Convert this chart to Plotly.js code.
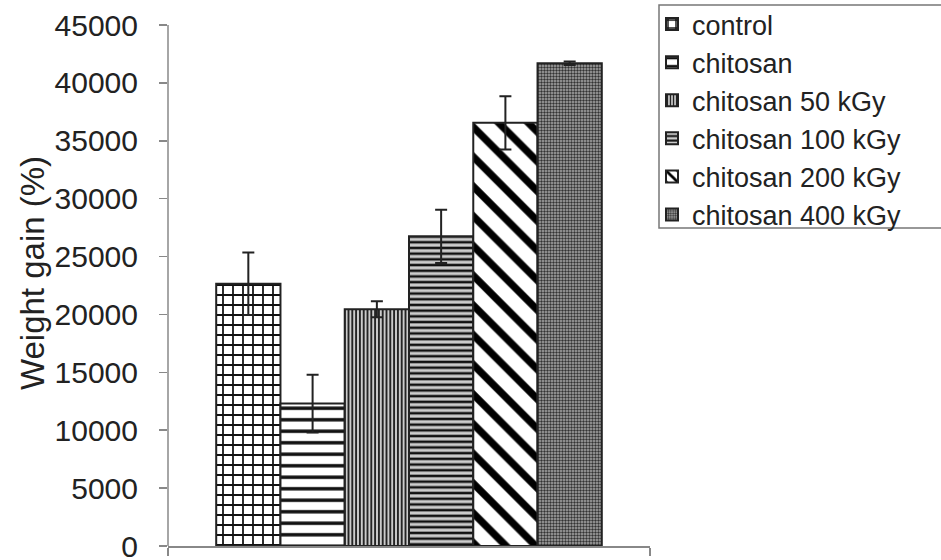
<!DOCTYPE html>
<html>
<head>
<meta charset="utf-8">
<script src="https://cdn.plot.ly/plotly-3.0.1.min.js"></script>
<style>html,body{margin:0;padding:0;background:#fff;}#chart{width:941px;height:560px;}</style>
</head>
<body>
<div id="chart"></div>
<script>
// Data
const seriesNames = ["control", "chitosan", "chitosan 50 kGy", "chitosan 100 kGy", "chitosan 200 kGy", "chitosan 400 kGy"];
const weightGain = [22650, 12300, 20450, 26750, 36550, 41700];
const errorValues = [2700, 2500, 700, 2300, 2300, 150];
const category = ["group"];
const yTickValues = [0, 5000, 10000, 15000, 20000, 25000, 30000, 35000, 40000, 45000];
const yTickLabels = ["0", "5000", "10000", "15000", "20000", "25000", "30000", "35000", "40000", "45000"];
const yAxisMax = 45000;

// Visual styles (not data)
const patterns = [
  {shape: "+", size: 10, solidity: 0.32, fgcolor: "#111", bgcolor: "#fff"},
  {shape: "-", size: 11.5, solidity: 0.3, fgcolor: "#111", bgcolor: "#fff"},
  {shape: "|", size: 3.8, solidity: 0.45, fgcolor: "#111", bgcolor: "#ccc"},
  {shape: "-", size: 5.7, solidity: 0.45, fgcolor: "#111", bgcolor: "#ccc"},
  {shape: "\\", size: 21, solidity: 0.35, fgcolor: "#000", bgcolor: "#fff"},
  {shape: ".", size: 3, solidity: 0.5, fgcolor: "#333", bgcolor: "#aaa"}
];

const traces = seriesNames.map((name, i) => ({
  type: "bar",
  name: name,
  x: category,
  y: [weightGain[i]],
  error_y: {type: "data", array: [errorValues[i]], visible: true, color: "#222", thickness: 2, width: 6},
  marker: {color: "#fff", line: {color: "#222", width: 2}, pattern: patterns[i]}
}));

// plot area: x 168..650 px, y 0..546 px; the 45000 tick sits at y = 25 px
const topPx = 25, zeroPx = 546;
const rangeMax = yAxisMax * zeroPx / (zeroPx - topPx);
const pw = 941 - 168 - 291, ph = zeroPx;
const px = v => (v - 168) / pw;
const py = v => (zeroPx - v) / ph;

const layout = {
  width: 941, height: 560,
  margin: {l: 168, r: 291, t: 0, b: 560 - zeroPx, autoexpand: false},
  paper_bgcolor: "#fff", plot_bgcolor: "#fff",
  barmode: "group", bargap: 0.2, bargroupgap: 0,
  font: {family: "Liberation Sans, Arial, sans-serif", color: "#222", size: 30},
  showlegend: true,
  legend: {
    x: px(652), y: 1, xanchor: "left", yanchor: "top",
    borderwidth: 0, bgcolor: "rgba(0,0,0,0)",
    font: {size: 27, color: "#222"}, tracegroupgap: 0, itemwidth: 30,
    traceorder: "normal"
  },
  shapes: [
    {
      type: "rect", xref: "paper", yref: "paper",
      x0: px(659), x1: px(960), y0: py(228), y1: py(5),
      line: {color: "#777", width: 1.5}, fillcolor: "rgba(0,0,0,0)", layer: "below"
    },
    {
      type: "line", xref: "paper", yref: "y",
      x0: 0, x1: 0, y0: 0, y1: yAxisMax,
      line: {color: "#888", width: 1.5}, layer: "above"
    }
  ],
  xaxis: {
    type: "category", showticklabels: false, showgrid: false, zeroline: false,
    showline: true, linecolor: "#888", linewidth: 1.5, automargin: false,
    ticks: "outside", tickson: "boundaries", ticklen: 8, tickcolor: "#888", tickwidth: 1.5
  },
  yaxis: {
    range: [0, rangeMax], tickvals: yTickValues, ticktext: yTickLabels, showgrid: false, zeroline: false,
    showline: false, automargin: false,
    ticks: "outside", ticklen: 8, tickcolor: "#888", tickwidth: 1.5,
    ticklabelstandoff: 15, ticklabeloverflow: "allow", tickfont: {size: 30, color: "#222"},
    title: {text: "Weight gain (%)", font: {size: 33, color: "#222"}, standoff: 0}
  }
};

Plotly.newPlot("chart", traces, layout, {displayModeBar: false, staticPlot: true});
</script>
</body>
</html>
